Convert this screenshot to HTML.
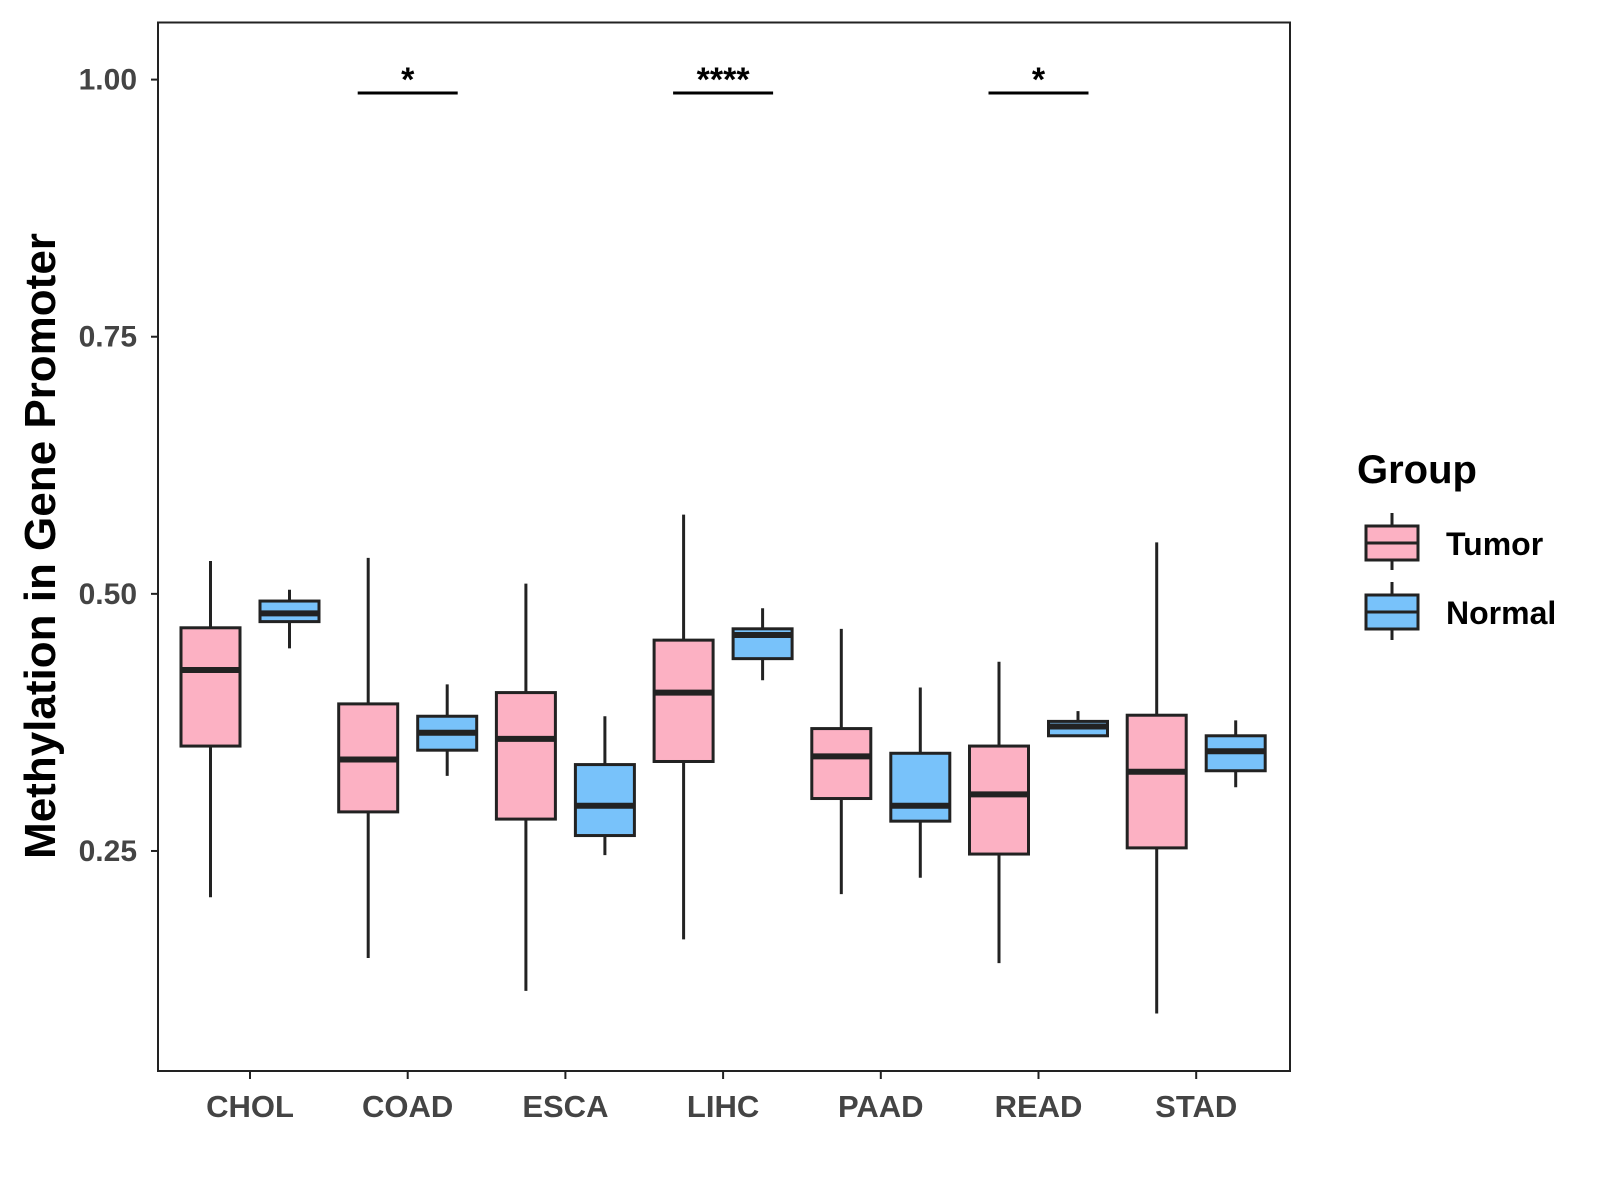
<!DOCTYPE html>
<html><head><meta charset="utf-8"><style>
body{margin:0;background:#fff}
svg{display:block;font-family:"Liberation Sans",Arial,sans-serif}
</style></head><body>
<svg id="chart" width="1600" height="1200">
<rect x="158" y="22.5" width="1132" height="1048.5" fill="none" stroke="#222" stroke-width="2"/>
<g id="marks"></g>
<text transform="translate(55,546) rotate(-90)" text-anchor="middle" font-size="44" font-weight="bold" fill="#000">Methylation in Gene Promoter</text>
<g>
<text x="1357" y="483" font-size="40" font-weight="bold" fill="#000">Group</text>
<g>
<line x1="1392" y1="513" x2="1392" y2="570" stroke="#222" stroke-width="3"/>
<rect x="1366" y="526" width="52" height="34" fill="#FCB1C3" stroke="#222" stroke-width="3"/>
<line x1="1366" y1="543" x2="1418" y2="543" stroke="#222" stroke-width="3"/>
<text x="1446" y="555" font-size="32" font-weight="bold" fill="#000">Tumor</text>
</g>
<g>
<line x1="1392" y1="582" x2="1392" y2="640" stroke="#222" stroke-width="3"/>
<rect x="1366" y="595" width="52" height="34" fill="#78C2FA" stroke="#222" stroke-width="3"/>
<line x1="1366" y1="612" x2="1418" y2="612" stroke="#222" stroke-width="3"/>
<text x="1446" y="624" font-size="32" font-weight="bold" fill="#000">Normal</text>
</g>
</g>
</svg>
<script>
const categories=["CHOL","COAD","ESCA","LIHC","PAAD","READ","STAD"];
const tumorStats=[[0.205,0.352,0.426,0.467,0.532],[0.146,0.288,0.339,0.393,0.535],[0.114,0.281,0.359,0.404,0.510],[0.164,0.337,0.404,0.455,0.577],[0.208,0.301,0.342,0.369,0.466],[0.141,0.247,0.305,0.352,0.434],[0.092,0.253,0.327,0.382,0.550]];
const normalStats=[[0.447,0.473,0.481,0.493,0.504],[0.323,0.348,0.365,0.381,0.412],[0.246,0.265,0.294,0.334,0.381],[0.416,0.437,0.460,0.466,0.486],[0.224,0.279,0.294,0.345,0.409],[0.362,0.362,0.371,0.376,0.386],[0.312,0.328,0.347,0.362,0.377]];
const yTicks=[0.25,0.5,0.75,1.0];
const yTickLabels=["0.25","0.50","0.75","1.00"];
const sigCats=["COAD","LIHC","READ"];
const sigLabels=["*","****","*"];
const sigLevel=0.987;
const NS="http://www.w3.org/2000/svg";
const g=document.getElementById('marks');
const y=v=>79.6+(1-v)*1028.5;
const x=i=>250+i*157.7;
function el(t,a){const e=document.createElementNS(NS,t);for(const k in a)e.setAttribute(k,a[k]);g.appendChild(e);return e;}
yTicks.forEach((v,i)=>{
 const t=el('line',{x1:151,x2:158,y1:y(v),y2:y(v),stroke:'#222','stroke-width':2});
 
 
 const l=el('text',{x:137,y:y(v)+10,'text-anchor':'end','font-size':30,'font-weight':'bold',fill:'#444'});
 l.textContent=yTickLabels[i];
 
 
});
categories.forEach((c,i)=>{
 const t=el('line',{x1:x(i),x2:x(i),y1:1071,y2:1079,stroke:'#222','stroke-width':2});
 
 
 const l=el('text',{x:x(i),y:1117,'text-anchor':'middle','font-size':31,'font-weight':'bold',fill:'#444'});
 l.textContent=c;
 
 
 [[tumorStats[i],-39.5,'#FCB1C3','tumor'],[normalStats[i],39.5,'#78C2FA','normal']].forEach(([s,off,col,nm])=>{
  const cx=x(i)+off,w=59;
  const wl=el('line',{x1:cx,x2:cx,y1:y(s[0]),y2:y(s[4]),stroke:'#222','stroke-width':3});
  
  
  const r=el('rect',{x:cx-w/2,y:y(s[3]),width:w,height:y(s[1])-y(s[3]),fill:col,stroke:'#222','stroke-width':3});
  
  
  const m=el('line',{x1:cx-w/2,x2:cx+w/2,y1:y(s[2]),y2:y(s[2]),stroke:'#222','stroke-width':6});
  
  
 });
});
sigCats.forEach((c,k)=>{
 const i=categories.indexOf(c);
 const b=el('line',{x1:x(i)-50,x2:x(i)+50,y1:y(sigLevel),y2:y(sigLevel),stroke:'#000','stroke-width':3});
 
 
 const t=el('text',{x:x(i),y:y(sigLevel)-2,'text-anchor':'middle','font-size':34,'font-weight':'bold',fill:'#000'});
 t.textContent=sigLabels[k];
 
 
});
</script>
</body></html>
